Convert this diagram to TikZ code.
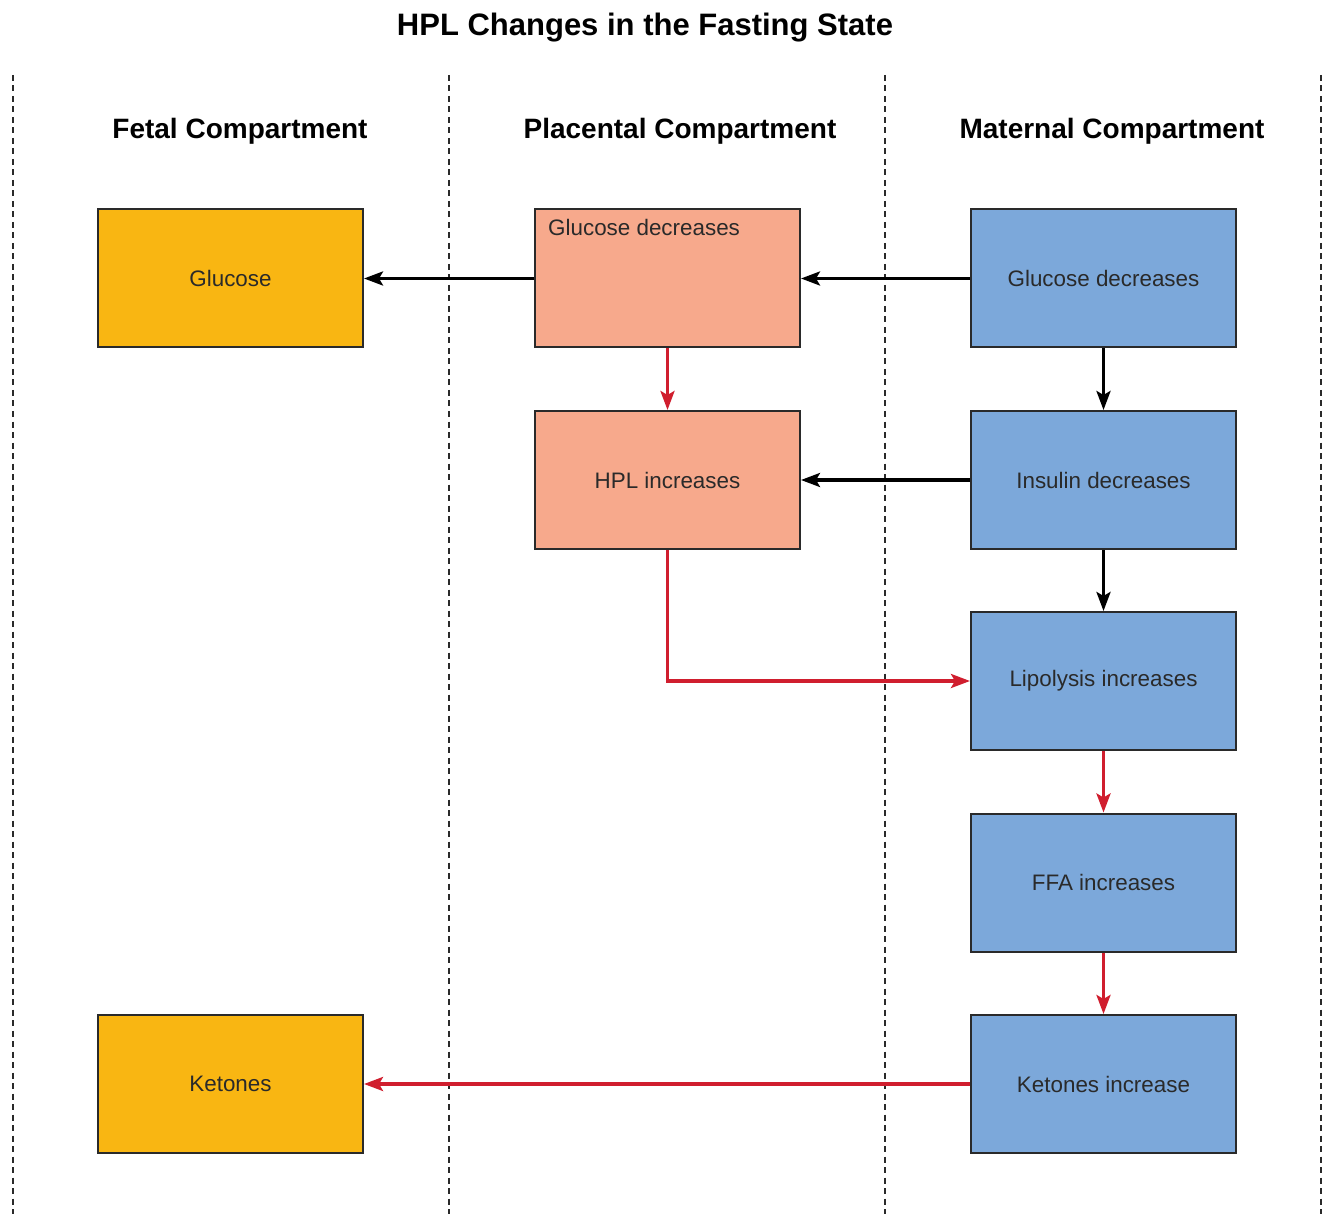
\documentclass[tikz,border=0pt]{standalone}
\usepackage{fontspec}
\setmainfont{Liberation Sans}
\usepackage{xcolor}
\usetikzlibrary{arrows.meta}

\definecolor{fetalfill}{HTML}{F9B612}
\definecolor{placfill}{HTML}{F7A98C}
\definecolor{matfill}{HTML}{7CA8DA}
\definecolor{hplred}{HTML}{D01E2E}
\definecolor{inkgray}{HTML}{2A2A2A}

\begin{document}
\begin{tikzpicture}[x=1pt, y=-1pt,
    box/.style={draw=inkgray, line width=2pt, minimum width=265pt, minimum height=138pt,
                inner sep=0pt, text=inkgray, font=\fontsize{22.4}{25}\selectfont},
    fetal/.style={box, fill=fetalfill},
    plac/.style={box, fill=placfill},
    mat/.style={box, fill=matfill},
    head/.style={font=\bfseries\fontsize{28}{31}\selectfont, text=black},
    sep/.style={draw=inkgray, line width=2pt, dash pattern=on 6pt off 4.5pt},
    blk/.style={draw=black, line width=3.4pt, -{Stealth[length=19pt, width=14pt, inset=4pt]}},
    rd/.style={draw=hplred, line width=3.4pt, -{Stealth[length=19pt, width=14pt, inset=4pt]}}]
\useasboundingbox (0,0) rectangle (1328,1214);

% compartment separators
\foreach \x in {13,449,885,1321}{
    \draw[sep] (\x,75) -- (\x,1214);
}

% titles
\node[font=\bfseries\fontsize{31}{35}\selectfont] (title) at (645,28) {HPL Changes in the Fasting State};
\node[head] (hfetal) at (240,131) {Fetal Compartment};
\node[head] (hplac) at (680,131) {Placental Compartment};
\node[head] (hmat) at (1112,131) {Maternal Compartment};

% fetal side
\node[fetal] (fgluc) at (230.5,278.5) {Glucose};
\node[fetal] (fket) at (230.5,1084) {Ketones};

% placenta
\node[plac] (pgluc) at (667.5,278.5) {};
\node[anchor=north west, inner sep=0pt, text=inkgray, font=\fontsize{22.4}{25}\selectfont]
    (pglucl) at ([shift={(14,11)}]pgluc.north west) {Glucose decreases};
\node[plac] (phpl) at (667.5,480) {HPL increases};

% mother
\node[mat] (mgluc) at (1103.5,278.5) {Glucose decreases};
\node[mat] (mins) at (1103.5,480) {Insulin decreases};
\node[mat] (mlip) at (1103.5,681) {Lipolysis increases};
\node[mat] (mffa) at (1103.5,882.5) {FFA increases};
\node[mat] (mket) at (1103.5,1084) {Ketones increase};

% black links
\draw[blk] (mgluc) -- (pgluc);
\draw[blk] (pgluc) -- (fgluc);
\draw[blk] (mins) -- (phpl);
\draw[blk] (mgluc) -- (mins);
\draw[blk] (mins) -- (mlip);

% red links
\draw[rd] (pgluc) -- (phpl);
\draw[rd] (phpl.south) |- (mlip.west);
\draw[rd] (mlip) -- (mffa);
\draw[rd] (mffa) -- (mket);
\draw[rd] (mket) -- (fket);
\end{tikzpicture}
\end{document}
